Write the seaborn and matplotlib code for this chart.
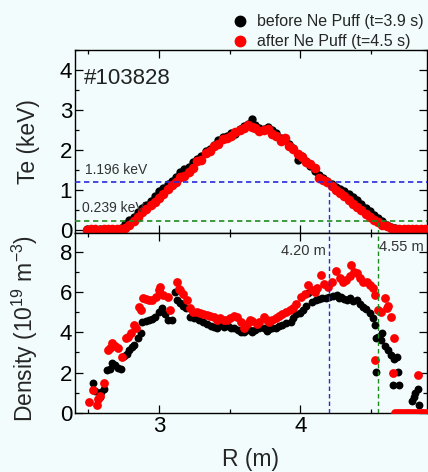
import numpy as np
import pandas as pd
import matplotlib
matplotlib.use("Agg")
import matplotlib.pyplot as plt
import seaborn as sns
from matplotlib.ticker import MultipleLocator

# ---- electron temperature profiles (R in m, Te in keV) ----
te_r_before = [2.49, 2.52, 2.55, 2.58, 2.61, 2.64, 2.67, 2.70, 2.73, 2.76, 2.79, 2.82, 2.85,
               2.88, 2.91, 2.94, 2.97, 3.00, 3.03, 3.06, 3.09, 3.12, 3.15, 3.18, 3.21, 3.24,
               3.27, 3.30, 3.33, 3.36, 3.39, 3.42, 3.45, 3.48, 3.51, 3.54, 3.57, 3.60, 3.63,
               3.655, 3.68, 3.71, 3.74, 3.77, 3.80, 3.83, 3.86, 3.89, 3.92, 3.95, 3.98, 4.01,
               4.04, 4.07, 4.10, 4.13, 4.16, 4.19, 4.22, 4.25, 4.28, 4.31, 4.34, 4.37, 4.40,
               4.43, 4.46, 4.49, 4.52, 4.55, 4.58, 4.61, 4.64, 4.67, 4.70, 4.73, 4.76, 4.79,
               4.82, 4.85, 4.88]
te_before = [0.02, 0.02, 0.03, 0.02, 0.03, 0.03, 0.04, 0.04, 0.06, 0.16, 0.25, 0.34, 0.44,
             0.54, 0.63, 0.73, 0.86, 0.97, 1.05, 1.16, 1.22, 1.33, 1.45, 1.52, 1.58, 1.70,
             1.78, 1.86, 1.98, 2.03, 2.12, 2.24, 2.32, 2.36, 2.42, 2.40, 2.52, 2.60, 2.66,
             2.77, 2.62, 2.56, 2.52, 2.58, 2.50, 2.42, 2.30, 2.28, 2.15, 2.05, 1.76, 1.84,
             1.72, 1.60, 1.48, 1.38, 1.30, 1.22, 1.14, 1.08, 1.02, 0.98, 0.90, 0.82, 0.76,
             0.66, 0.56, 0.48, 0.38, 0.30, 0.22, 0.14, 0.08, 0.05, 0.04, 0.03, 0.03, 0.02,
             0.03, 0.02, 0.03]

te_r_after = te_r_before
te_after = [0.01, 0.02, 0.02, 0.01, 0.02, 0.02, 0.03, 0.02, 0.03, 0.05, 0.12, 0.22, 0.33,
            0.44, 0.52, 0.62, 0.70, 0.80, 0.90, 1.02, 1.12, 1.20, 1.32, 1.36, 1.45, 1.56,
            1.72, 1.74, 1.92, 1.98, 2.10, 2.15, 2.28, 2.30, 2.36, 2.45, 2.50, 2.54, 2.62,
            2.58, 2.55, 2.48, 2.50, 2.52, 2.40, 2.34, 2.22, 2.30, 2.10, 2.02, 1.90, 1.82,
            1.70, 1.66, 1.54, 1.30, 1.24, 1.20, 1.10, 1.00, 0.92, 0.86, 0.76, 0.66, 0.58,
            0.50, 0.40, 0.32, 0.26, 0.20, 0.14, 0.10, 0.06, 0.04, 0.03, 0.02, 0.02, 0.02,
            0.02, 0.02, 0.02]

# ---- electron density profiles (R in m, n in 1e19 m^-3) ----
ne_r_before = [2.53, 2.55, 2.58, 2.59, 2.61, 2.635, 2.65, 2.67, 2.69, 2.71, 2.73, 2.75, 2.77,
               2.79, 2.81, 2.82, 2.85, 2.87, 2.88, 2.91, 2.93, 2.95, 2.97, 3.00, 3.02, 3.04,
               3.06, 3.09, 3.11, 3.13, 3.15, 3.17, 3.19, 3.22, 3.25, 3.28, 3.31, 3.34, 3.37,
               3.39, 3.41, 3.43, 3.46, 3.49, 3.51, 3.53, 3.56, 3.58, 3.60, 3.62, 3.64, 3.66,
               3.68, 3.71, 3.74, 3.76, 3.78, 3.80, 3.83, 3.85, 3.87, 3.90, 3.93, 3.95, 3.97,
               4.00, 4.02, 4.04, 4.055, 4.08, 4.11, 4.13, 4.15, 4.18, 4.20, 4.23, 4.255, 4.27,
               4.29, 4.31, 4.33, 4.35, 4.37, 4.40, 4.42, 4.44, 4.46, 4.49, 4.51, 4.525, 4.536,
               4.536, 4.55, 4.57, 4.58, 4.60, 4.62, 4.64, 4.66, 4.68, 4.655, 4.70, 4.69, 4.80,
               4.79, 4.81, 4.83, 4.84]
ne_before = [1.49, 1.10, 0.80, 1.04, 1.20, 2.12, 2.20, 2.46, 2.40, 2.25, 2.20, 2.82, 2.95,
             3.12, 3.25, 3.37, 3.70, 3.95, 4.50, 4.58, 4.60, 4.64, 4.75, 5.03, 5.19, 4.90,
             4.61, 4.60, 6.02, 5.60, 5.45, 5.30, 5.19, 4.78, 4.70, 4.60, 4.50, 4.40, 4.30,
             4.28, 4.20, 4.35, 4.25, 4.30, 4.20, 4.20, 4.10, 4.00, 4.03, 4.10, 4.11, 4.00,
             4.10, 4.20, 4.20, 4.05, 4.15, 4.20, 4.20, 4.30, 4.35, 4.45, 4.53, 4.70, 4.90,
             4.94, 5.10, 5.30, 5.94, 5.50, 5.60, 5.65, 5.70, 5.68, 5.75, 5.80, 5.86, 5.70,
             5.75, 5.65, 5.60, 5.70, 5.55, 5.60, 5.40, 5.27, 5.15, 4.94, 4.70, 4.36, 3.70,
             2.04, 3.78, 3.60, 3.95, 3.30, 3.10, 2.90, 2.70, 2.80, 1.38, 1.38, 2.04, 0.80,
             0.60, 1.00, 1.21, 0.38]

ne_r_after = [2.506, 2.53, 2.56, 2.57, 2.58, 2.612, 2.64, 2.65, 2.67, 2.69, 2.71, 2.74, 2.765,
              2.78, 2.80, 2.82, 2.84, 2.86, 2.87, 2.89, 2.91, 2.93, 2.95, 2.98, 3.00, 3.01,
              3.03, 3.06, 3.075, 3.125, 3.14, 3.15, 3.17, 3.20, 3.22, 3.24, 3.27, 3.29, 3.31,
              3.34, 3.36, 3.39, 3.41, 3.43, 3.46, 3.48, 3.50, 3.53, 3.55, 3.58, 3.60, 3.62,
              3.64, 3.66, 3.69, 3.71, 3.74, 3.76, 3.78, 3.80, 3.83, 3.85, 3.87, 3.90, 3.925,
              3.95, 3.97, 4.007, 4.03, 4.054, 4.08, 4.10, 4.12, 4.148, 4.17, 4.195, 4.22,
              4.254, 4.28, 4.30, 4.32, 4.348, 4.36, 4.38, 4.40, 4.42, 4.44, 4.47, 4.49, 4.51,
              4.524, 4.53, 4.55, 4.57, 4.595, 4.61, 4.62, 4.642, 4.665, 4.653, 4.83,
              4.67, 4.69, 4.71, 4.73, 4.75, 4.77, 4.79, 4.81, 4.83, 4.85, 4.87, 4.89]
ne_after = [0.55, 1.13, 0.38, 0.70, 0.85, 1.49, 3.12, 3.20, 3.45, 3.30, 3.20, 2.76, 3.70,
            3.75, 3.95, 4.36, 4.20, 5.27, 5.10, 5.69, 5.65, 5.60, 5.60, 5.75, 6.10, 6.27,
            5.85, 5.75, 5.10, 6.52, 6.15, 6.10, 5.90, 5.60, 5.20, 5.00, 5.00, 4.95, 4.90,
            4.85, 4.80, 4.78, 4.60, 4.70, 4.60, 4.60, 4.70, 4.80, 4.78, 4.50, 4.20, 4.40,
            4.61, 4.55, 4.40, 4.50, 4.78, 4.60, 4.50, 4.60, 4.70, 4.80, 4.90, 5.00, 5.11,
            5.20, 5.40, 5.77, 5.90, 6.35, 6.10, 6.00, 6.20, 6.85, 6.40, 6.27, 6.50,
            7.02, 6.70, 6.52, 6.60, 6.77, 7.35, 7.00, 6.93, 6.70, 6.52, 6.50, 6.35, 6.20,
            5.86, 2.62, 5.10, 5.03, 5.69, 5.20, 5.30, 4.78, 3.70, 1.96, 1.88,
            0.0, 0.0, 0.0, 0.0, 0.0, 0.0, 0.0, 0.0, 0.0, 0.0, 0.0, 0.0]

label_before = "before Ne Puff (t=3.9 s)"
label_after = "after Ne Puff (t=4.5 s)"

te_levels = [1.196, 0.239]
te_level_labels = ["1.196 keV", "0.239 keV"]
r_marks = [4.20, 4.55]
r_mark_labels = ["4.20 m", "4.55 m"]
shot_label = "#103828"

te_df = pd.concat([
    pd.DataFrame({"R": te_r_before, "val": te_before, "case": label_before}),
    pd.DataFrame({"R": te_r_after, "val": te_after, "case": label_after}),
], ignore_index=True)
ne_df = pd.concat([
    pd.DataFrame({"R": ne_r_before, "val": ne_before, "case": label_before}),
    pd.DataFrame({"R": ne_r_after, "val": ne_after, "case": label_after}),
], ignore_index=True)

sns.set_theme(style="ticks")
bg = "#f2fcfc"
plt.rcParams["font.family"] = ["Liberation Sans", "DejaVu Sans"]
plt.rcParams["mathtext.default"] = "regular"

fig = plt.figure(figsize=(4.28, 4.72), dpi=100, facecolor=bg)
ax1 = fig.add_axes([0.175, 0.5074, 0.8227, 0.3866], facecolor=bg)
ax2 = fig.add_axes([0.175, 0.125, 0.8227, 0.3824], facecolor=bg, sharex=ax1)

palette = {label_before: "black", label_after: "#ff0000"}
te_sizes = {label_before: 36, label_after: 48}
ne_sizes = {label_before: 32, label_after: 40}

for ax, df, sizes in ((ax1, te_df, te_sizes), (ax2, ne_df, ne_sizes)):
    for case in (label_before, label_after):
        sub = df[df["case"] == case]
        sns.scatterplot(data=sub, x="R", y="val", color=palette[case], s=sizes[case],
                        linewidth=0, ax=ax, legend=False, zorder=3)

blue = "#2a2ad8"
green = "#1f8a1f"
dash = (0, (3.2, 2.2))

# reference levels on the temperature panel
ax1.axhline(te_levels[0], color=blue, lw=1.2, ls=dash, zorder=4)
ax1.axhline(te_levels[1], color=green, lw=1.2, ls=dash, zorder=4)
ax1.plot([r_marks[0], r_marks[0]], [-0.1, te_levels[0]], color=blue, lw=1.0, ls=dash, zorder=4)
ax1.plot([r_marks[1], r_marks[1]], [-0.1, te_levels[1]], color=green, lw=1.0, ls=dash, zorder=4)
ax1.text(2.475, te_levels[0] + 0.13, te_level_labels[0], fontsize=10, color="#333333",
         ha="left", va="bottom")
ax1.text(2.455, te_levels[1] + 0.13, te_level_labels[1], fontsize=10, color="#333333",
         ha="left", va="bottom")
ax1.text(2.465, 3.8, shot_label, fontsize=16, color="#222222", ha="left", va="center")

# matching radii on the density panel
ax2.axvline(r_marks[0], color=blue, lw=1.0, ls=dash, zorder=4)
ax2.axvline(r_marks[1], color=green, lw=1.0, ls=dash, zorder=4)
ax2.text(r_marks[0] - 0.02, 8.05, r_mark_labels[0], fontsize=10.5, color="#333333",
         ha="right", va="center")
ax2.text(r_marks[1] + 0.005, 8.25, r_mark_labels[1], fontsize=10.5, color="#333333",
         ha="left", va="center")

ax1.set_xlim(2.405, 4.895)
ax1.set_ylim(-0.06, 4.5)
ax2.set_ylim(0, 8.95)

ax1.yaxis.set_major_locator(MultipleLocator(1))
ax1.yaxis.set_minor_locator(MultipleLocator(0.5))
ax2.yaxis.set_major_locator(MultipleLocator(2))
ax2.yaxis.set_minor_locator(MultipleLocator(1))
ax2.xaxis.set_major_locator(MultipleLocator(1))
ax2.xaxis.set_minor_locator(MultipleLocator(0.5))

for ax in (ax1, ax2):
    for sp in ax.spines.values():
        sp.set_visible(True)
        sp.set_color("black")
        sp.set_linewidth(1.0)
    ax.tick_params(which="both", direction="in", top=True, right=True, colors="black",
                   labelsize=16, pad=2, width=0.9)
    ax.tick_params(which="major", length=6)
    ax.tick_params(which="minor", length=3)
    ax.set_xlabel("")
    ax.grid(False)

ax1.tick_params(axis="x", labelbottom=False)
ax1.set_ylabel("Te (keV)", fontsize=16.5)
ax2.set_ylabel("Density (10$^{19}$ m$^{-3}$)", fontsize=16.5)
ax2.set_xlabel("R (m)", fontsize=16.5, labelpad=8)
ax1.yaxis.set_label_coords(-0.10, 0.5)
ax2.yaxis.set_label_coords(-0.10, 0.47)

handles = [
    plt.Line2D([], [], ls="none", marker="o", color="black", markersize=7.5),
    plt.Line2D([], [], ls="none", marker="o", color="#ff0000", markersize=7.5),
]
fig.legend(handles, [label_before, label_after], loc="upper right",
           bbox_to_anchor=(1.012, 0.99), frameon=False, fontsize=11.5,
           handletextpad=0.45, labelspacing=0.3, handlelength=1.2, borderaxespad=0.2)

fig.savefig("out.png", dpi=100, facecolor=bg)
